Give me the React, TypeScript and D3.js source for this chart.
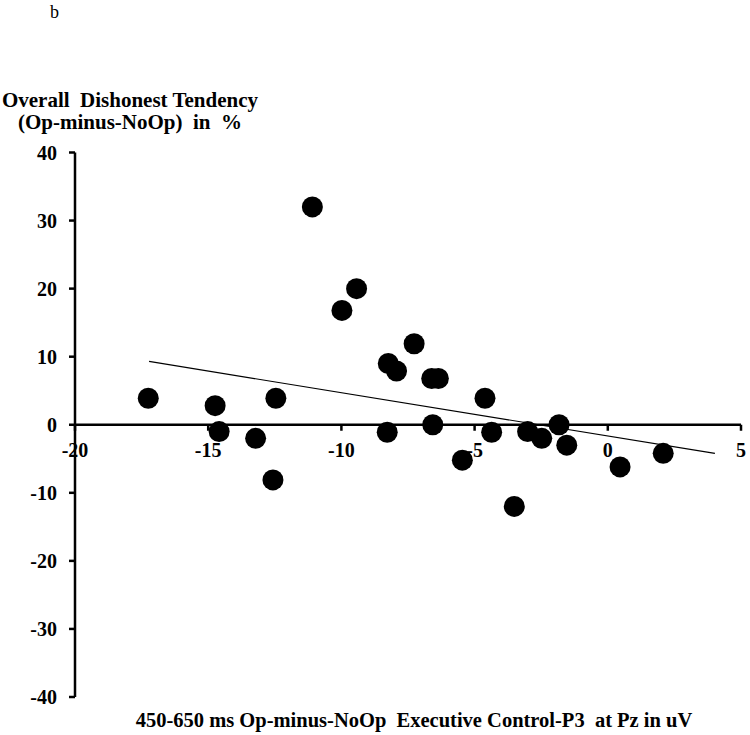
import React from "react";
import * as d3 from "d3";

const pointsX = [-17.25, -14.74, -14.59, -13.22, -12.46, -12.57, -11.09, -9.98, -9.43, -8.24, -7.93, -8.28, -7.27, -6.61, -6.36, -6.57, -5.46, -4.61, -4.36, -3.51, -3.01, -2.48, -1.83, -1.54, 0.46, 2.08];
const pointsY = [3.9, 2.8, -1.0, -2.0, 3.9, -8.1, 32.0, 16.8, 20.0, 9.0, 7.9, -1.1, 11.9, 6.8, 6.8, 0.0, -5.2, 3.9, -1.1, -12.0, -1.0, -2.0, 0.0, -3.0, -6.2, -4.2];
const trendX = [-17.22, 4.02];
const trendY = [9.3, -4.2];
const xTicks = [-20, -15, -10, -5, 0, 5];
const yTicks = [40, 30, 20, 10, 0, -10, -20, -30, -40];

const W = 750;
const H = 735;
const FONT = "'Liberation Serif', 'Times New Roman', serif";

export default function App() {
  const x = d3.scaleLinear().domain([-20, 5]).range([75, 741]);
  const y = d3.scaleLinear().domain([-40, 40]).range([697, 152.5]);
  const line = d3.line<number>().x((d, i) => x(trendX[i])).y((d, i) => y(trendY[i]));

  return (
    <svg width={W} height={H} style={{ position: "absolute", left: 0, top: 0, background: "#fff" }} fontFamily={FONT}>
      <rect x={0} y={0} width={W} height={H} fill="#fff" />
      <text x={50} y={18} fontSize={18}>b</text>
      <text x={130} y={107} fontSize={21} fontWeight="bold" textAnchor="middle" style={{ whiteSpace: "pre" }}>Overall  Dishonest Tendency</text>
      <text x={130} y={129} fontSize={21} fontWeight="bold" textAnchor="middle" style={{ whiteSpace: "pre" }}>(Op-minus-NoOp)  in  %</text>

      {/* y axis */}
      <line x1={x(-20)} x2={x(-20)} y1={y(40)} y2={y(-40)} stroke="#000" strokeWidth={2.5} />
      {yTicks.map((t) => (
        <g key={"y" + t}>
          <line x1={x(-20) - 6} x2={x(-20)} y1={y(t)} y2={y(t)} stroke="#000" strokeWidth={2.5} />
          <text x={57} y={y(t)} dy="0.35em" fontSize={20} fontWeight="bold" textAnchor="end">{t}</text>
        </g>
      ))}

      {/* x axis at y=0 */}
      <line x1={x(-20)} x2={x(5)} y1={y(0)} y2={y(0)} stroke="#000" strokeWidth={2.5} />
      {xTicks.map((t) => (
        <g key={"x" + t}>
          <line x1={x(t)} x2={x(t)} y1={y(0)} y2={y(0) + 6} stroke="#000" strokeWidth={2.5} />
          <text x={x(t)} y={457} fontSize={20} fontWeight="bold" textAnchor="middle">{t}</text>
        </g>
      ))}

      {/* points */}
      {pointsX.map((px, i) => (
        <circle key={"p" + i} cx={x(px)} cy={y(pointsY[i])} r={10.5} fill="#000" />
      ))}

      {/* trend line */}
      <path d={line(trendX) || ""} fill="none" stroke="#000" strokeWidth={1.2} />

      <text x={414} y={727} fontSize={20.5} fontWeight="bold" textAnchor="middle" style={{ whiteSpace: "pre" }}>450-650 ms Op-minus-NoOp  Executive Control-P3  at Pz in uV</text>
    </svg>
  );
}
